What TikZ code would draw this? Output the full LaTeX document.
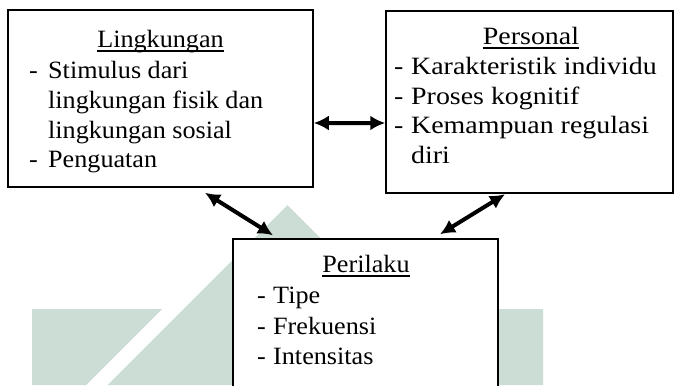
\documentclass[tikz,border=0pt]{standalone}
\usepackage{fontspec}
\setmainfont{Liberation Serif}[FakeStretch=1.05]
\newfontfamily\rightfam{Liberation Serif}[FakeStretch=1.12]
\usetikzlibrary{arrows.meta}
\definecolor{wm}{RGB}{203,221,212}
\tikzset{
  box/.style={draw, line width=1.5bp, fill=white, rectangle, inner sep=0pt},
  txt/.style={anchor=base west, inner sep=0pt, font=\fontsize{25}{29}\selectfont},
  ttl/.style={anchor=base, inner sep=0pt, font=\fontsize{25}{29}\selectfont},
  rtxt/.style={txt, font=\rightfam\fontsize{25}{29}\selectfont},
  rttl/.style={ttl, font=\rightfam\fontsize{25}{29}\selectfont},
  uline/.style={line width=1.1bp},
  dbl/.style={line width=4bp, {Latex[length=15bp,width=15bp]}-{Latex[length=15bp,width=15bp]}},
}
\begin{document}
\begin{tikzpicture}[x=1bp,y=-1bp]
\path[use as bounding box, clip] (0,0) rectangle (674,385);
\fill[white] (0,0) rectangle (674,385);
% watermark
\fill[wm] (32,309) -- (162,309) -- (86,385) -- (32,385) -- cycle;
\fill[wm] (287.5,205) -- (467.5,385) -- (107.5,385) -- cycle;
\fill[wm] (413,309) -- (543,309) -- (543,385) -- (489,385) -- cycle;
% boxes
\node[box, minimum width=305bp, minimum height=177bp] (L) at (160.5,98.5) {};
\node[box, minimum width=287bp, minimum height=182bp] (R) at (529.5,102) {};
\node[box, minimum width=265bp, minimum height=181bp] (P) at (365.5,329.5) {};
% left text
\node[ttl] (tL) at (160.5,47) {Lingkungan};
\draw[uline] ([yshift=-4bp]tL.base west) -- ([yshift=-4bp]tL.base east);
\node[txt] (dL1) at (29,78) {-};
\node[txt] (xL1) at (48,78) {Stimulus dari};
\node[txt] (xL2) at (48,108) {lingkungan fisik dan};
\node[txt] (xL3) at (48,138) {lingkungan sosial};
\node[txt] (dL4) at (29,167) {-};
\node[txt] (xL4) at (48,167) {Penguatan};
% right text
\node[rttl] (tR) at (531,44) {Personal};
\draw[uline] ([yshift=-4bp]tR.base west) -- ([yshift=-4bp]tR.base east);
\node[rtxt] (dR1) at (394,74) {-};
\node[rtxt] (xR1) at (411,74) {Karakteristik individu};
\node[rtxt] (dR2) at (394,104) {-};
\node[rtxt] (xR2) at (411,104) {Proses kognitif};
\node[rtxt] (dR3) at (394,133) {-};
\node[rtxt] (xR3) at (411,133) {Kemampuan regulasi};
\node[rtxt] (xR4) at (411,163) {diri};
% bottom text
\node[ttl] (tP) at (366,272) {Perilaku};
\draw[uline] ([yshift=-4bp]tP.base west) -- ([yshift=-4bp]tP.base east);
\node[txt] (dP1) at (257,303) {-};
\node[txt] (xP1) at (273,303) {Tipe};
\node[txt] (dP2) at (257,334) {-};
\node[txt] (xP2) at (273,334) {Frekuensi};
\node[txt] (dP3) at (257,364) {-};
\node[txt] (xP3) at (273,364) {Intensitas};
% arrows
\draw[dbl] ([yshift=-24.5bp]L.east) -- ([yshift=-21bp]R.west);
\draw[dbl] ([xshift=44.5bp,yshift=-5bp]L.south) -- ([xshift=-92.5bp,yshift=3bp]P.north);
\draw[dbl] ([xshift=-24.5bp,yshift=-0.5bp]R.south) -- ([xshift=74.5bp,yshift=4bp]P.north);
\end{tikzpicture}
\end{document}
